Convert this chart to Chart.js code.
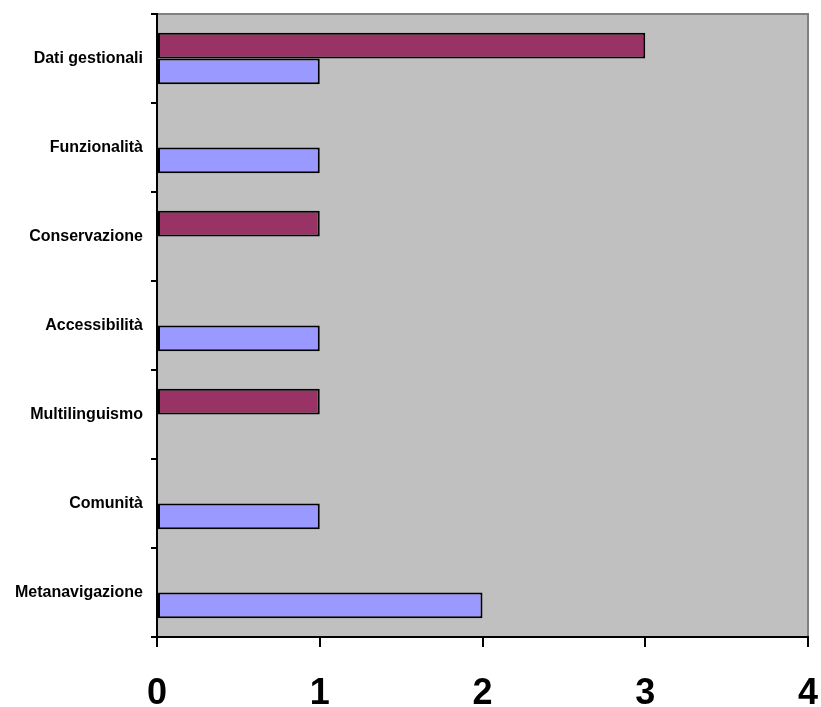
<!DOCTYPE html>
<html>
<head>
<meta charset="utf-8">
<script src="https://cdn.jsdelivr.net/npm/chart.js@4/dist/chart.umd.min.js"></script>
<style>
    html, body { margin: 0; padding: 0; background: #ffffff; }
    #wrap { width: 821px; height: 707px; }
</style>
</head>
<body>
<div id="wrap"><canvas id="barChart" width="821" height="707"></canvas></div>
<script>
var categories = ['Dati gestionali', 'Funzionalità', 'Conservazione', 'Accessibilità', 'Multilinguismo', 'Comunità', 'Metanavigazione'];
var serie2 = [3, 0, 1, 0, 1, 0, 0];
var serie1 = [1, 1, 0, 1, 0, 1, 2];
var xTicks = [0, 1, 2, 3, 4];

// grey plot area with the grey frame on top and right
var plotBackground = {
    id: 'plotBackground',
    beforeDraw: function (chart) {
        var ctx = chart.ctx;
        var a = chart.chartArea;
        ctx.save();
        ctx.fillStyle = '#C0C0C0';
        ctx.fillRect(a.left, a.top, a.right - a.left, a.bottom - a.top);
        ctx.strokeStyle = '#808080';
        ctx.lineWidth = 2;
        ctx.beginPath();
        ctx.moveTo(a.left, a.top);
        ctx.lineTo(a.right, a.top);
        ctx.lineTo(a.right, a.bottom);
        ctx.stroke();
        ctx.restore();
    }
};

var barBorder = function (c) {
    return c.raw ? 2 : 0;
};

var generateBarGraph = function (chartId) {
    var ctx = document.getElementById(chartId).getContext('2d');
    var myBarChart = new Chart(ctx, {
        type: 'bar',
        data: {
            labels: categories,
            datasets: [
                {
                    label: 'Serie 2',
                    data: serie2,
                    backgroundColor: '#993366',
                    borderColor: '#000000',
                    borderWidth: barBorder,
                    borderSkipped: false
                },
                {
                    label: 'Serie 1',
                    data: serie1,
                    backgroundColor: '#9999FF',
                    borderColor: '#000000',
                    borderWidth: barBorder,
                    borderSkipped: false
                }
            ]
        },
        options: {
            indexAxis: 'y',
            responsive: false,
            animation: false,
            layout: {
                padding: { top: 14, right: 13, left: 0, bottom: 0 }
            },
            datasets: {
                bar: { categoryPercentage: 0.58, barPercentage: 1 }
            },
            plugins: {
                legend: { display: false },
                tooltip: { enabled: false }
            },
            scales: {
                x: {
                    type: 'linear',
                    min: xTicks[0],
                    max: xTicks[xTicks.length - 1],
                    afterFit: function (scale) {
                        scale.height = 70;
                        scale.paddingLeft = 0;
                        scale.paddingRight = 0;
                    },
                    afterBuildTicks: function (scale) {
                        scale.ticks = xTicks.map(function (v) { return { value: v }; });
                    },
                    border: { display: true, color: '#000000', width: 2 },
                    grid: {
                        drawOnChartArea: false,
                        drawTicks: true,
                        tickLength: 10,
                        tickColor: '#000000',
                        lineWidth: 2
                    },
                    ticks: {
                        color: '#000000',
                        padding: 25,
                        font: { family: 'Liberation Sans, Arial, sans-serif', size: 36, weight: 'bold' }
                    }
                },
                y: {
                    afterFit: function (scale) {
                        scale.width = 157;
                        scale.paddingTop = 0;
                        scale.paddingBottom = 0;
                    },
                    border: { display: true, color: '#000000', width: 2 },
                    grid: {
                        offset: true,
                        drawOnChartArea: false,
                        drawTicks: true,
                        tickLength: 6,
                        tickColor: '#000000',
                        lineWidth: 2
                    },
                    ticks: {
                        color: '#000000',
                        padding: 8,
                        font: { family: 'Liberation Sans, Arial, sans-serif', size: 16, weight: 'bold' }
                    }
                }
            }
        },
        plugins: [plotBackground]
    });
    return;
};

generateBarGraph('barChart');
</script>
</body>
</html>
